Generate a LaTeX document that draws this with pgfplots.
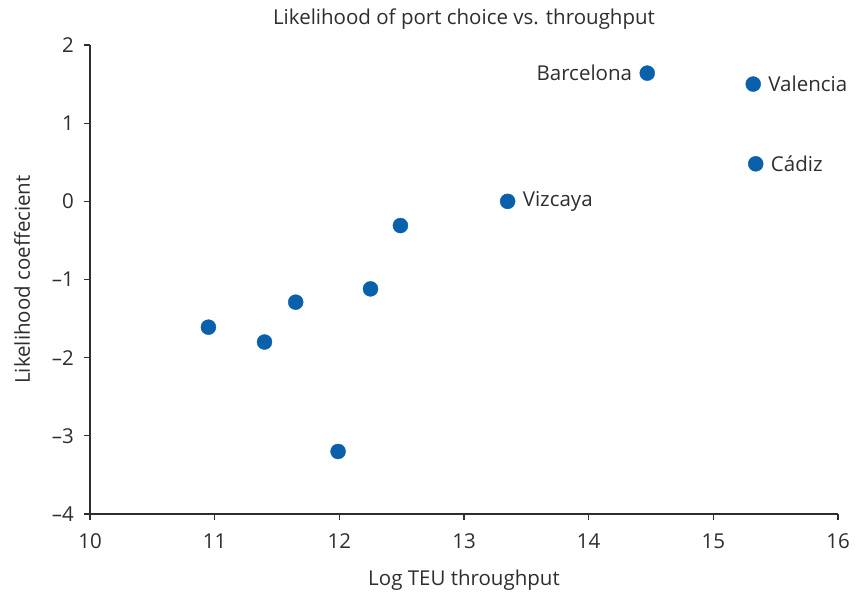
\documentclass[border=0pt]{standalone}
\usepackage{fontspec}
\setmainfont{Open Sans}
\usepackage{pgfplots}
\pgfplotsset{compat=1.18}
\definecolor{portblue}{HTML}{0A60AA}
\definecolor{txt}{HTML}{2E2E2E}
\newcommand\chartfont{\fontsize{20.5bp}{24bp}\selectfont}
\begin{document}
\chartfont
\begin{tikzpicture}
\path[use as bounding box] (-90bp,-79bp) rectangle (768bp,514bp);
\begin{axis}[
  scale only axis,
  width=748bp, height=469bp,
  xmin=10, xmax=16, ymin=-4, ymax=2,
  xtick={10,...,16}, ytick={-4,...,2},
  xticklabels={10,11,12,13,14,15,16},
  yticklabels={\textendash4,\textendash3,\textendash2,\textendash1,0,1,2},
  axis lines=left,
  axis line style={line width=1.3bp, color=txt, -},
  tick style={line width=1.3bp, color=txt},
  tick align=outside,
  major tick length=6bp,
  every tick label/.append style={text=txt, font=\chartfont},
  xticklabel style={yshift=-7bp},
  yticklabel style={xshift=-3bp},
  title={Likelihood of port choice vs. throughput},
  title style={text=txt, font=\chartfont, yshift=3bp},
  xlabel={Log TEU throughput},
  ylabel={Likelihood coeffecient},
  xlabel style={text=txt, font=\chartfont, yshift=-7bp},
  ylabel style={text=txt, font=\chartfont, yshift=8bp},
  clip=false,
]
% unlabelled ports
\addplot[only marks, color=portblue, mark=*, mark size=7.5bp,
  mark options={fill=portblue, draw=portblue}]
  coordinates {
    (10.95,-1.61) (11.40,-1.80) (11.65,-1.29) (11.99,-3.20)
    (12.25,-1.12) (12.49,-0.31)
  };
% labelled ports, name to the right
\addplot[only marks, color=portblue, mark=*, mark size=7.5bp,
  mark options={fill=portblue, draw=portblue},
  nodes near coords, point meta=explicit symbolic,
  every node near coord/.append style={anchor=west, inner xsep=15bp, text=txt,
    font=\chartfont}]
  table[meta=label] {
    x      y     label
    13.35  0.00  Vizcaya
    15.32  1.50  Valencia
    15.34  0.48  Cádiz
  };
% labelled port, name to the left
\addplot[only marks, color=portblue, mark=*, mark size=7.5bp,
  mark options={fill=portblue, draw=portblue},
  nodes near coords, point meta=explicit symbolic,
  every node near coord/.append style={anchor=east, inner xsep=15bp, text=txt,
    font=\chartfont}]
  table[meta=label] {
    x      y     label
    14.47  1.64  Barcelona
  };
\end{axis}
\end{tikzpicture}
\end{document}
